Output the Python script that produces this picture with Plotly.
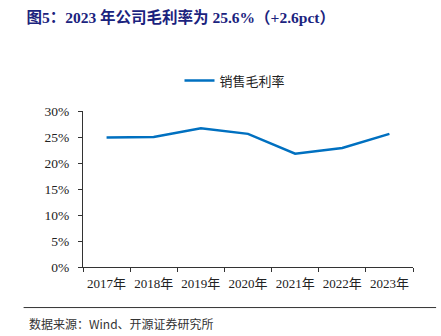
import plotly.graph_objects as go

years = ["2017年", "2018年", "2019年", "2020年", "2021年", "2022年", "2023年"]
gross_margin = [24.9, 25.0, 26.7, 25.6, 21.8, 22.9, 25.6]
y_ticks = [0, 5, 10, 15, 20, 25, 30]
y_labels = ["0%", "5%", "10%", "15%", "20%", "25%", "30%"]

FONT = "Liberation Serif, Noto Sans CJK SC, serif"

fig = go.Figure()
fig.add_trace(go.Scatter(
    x=years, y=gross_margin, mode="lines", name="销售毛利率",
    line=dict(color="#0070C0", width=2.5),
))

fig.update_layout(
    width=441, height=336,
    margin=dict(l=83, r=28, t=111, b=69),
    paper_bgcolor="white", plot_bgcolor="white",
    font=dict(family=FONT, size=13, color="#222222"),
    showlegend=True,
    legend=dict(orientation="h", x=235 / 441, xanchor="center", xref="container",
                y=0.76, yref="container", yanchor="middle",
                font=dict(size=13, family="Noto Sans CJK SC"),
                itemwidth=30),
    title=dict(text="<b>图5：2023 年公司毛利率为 25.6%（+2.6pct）</b>",
               x=0.06, xanchor="left", y=0.948, yanchor="middle",
               font=dict(size=15.5, color="#1B237E", family=FONT)),
    xaxis=dict(range=[-0.5, 6.5], showline=True, linecolor="#333333", linewidth=1,
               ticks="outside", ticklen=4, tickcolor="#333333",
               tickson="boundaries", showgrid=False, zeroline=False,
               ticklabelstandoff=4, tickangle=0, automargin=False,
               tickfont=dict(size=13, family=FONT, color="#222222")),
    yaxis=dict(range=[0, 30], tickvals=y_ticks, ticktext=y_labels,
               showline=True, linecolor="#333333", linewidth=1,
               ticks="outside", ticklen=4, tickcolor="#333333",
               showgrid=False, zeroline=False, ticklabelstandoff=6,
               automargin=False,
               tickfont=dict(size=13.5, family=FONT, color="#222222")),
)

fig.add_shape(type="line", xref="paper", yref="paper",
              x0=-0.18, x1=1.07, y0=-0.26, y1=-0.26,
              line=dict(color="#333333", width=1))
fig.add_annotation(text="数据来源：Wind、开源证券研究所", xref="paper", yref="paper",
                   x=-0.17, y=-0.36, xanchor="left", yanchor="middle", showarrow=False,
                   font=dict(size=12, family="Noto Sans CJK SC", color="#333333"))

fig.write_html("out.html")
